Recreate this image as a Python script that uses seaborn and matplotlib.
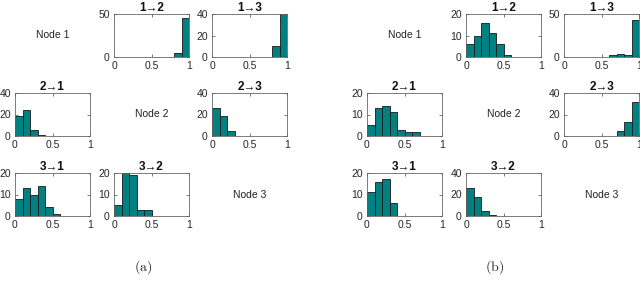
import numpy as np
import matplotlib
matplotlib.use('Agg')
import matplotlib.pyplot as plt
import seaborn as sns

sns.set_theme(style='white')
plt.rcParams['font.family'] = ['Liberation Sans', 'DejaVu Sans']
plt.rcParams['mathtext.fontset'] = 'cm'

# bin edges of every histogram
edges = [0.0, 0.1, 0.2, 0.3, 0.4, 0.5, 0.6, 0.7, 0.8, 0.9, 1.0]

# counts per bin, panel (a)
a_12 = [0, 0, 0, 0, 0, 0, 0, 0, 5, 45]
a_13 = [0, 0, 0, 0, 0, 0, 0, 0, 10, 40]
a_21 = [19, 24, 6, 1, 0, 0, 0, 0, 0, 0]
a_23 = [26, 19, 5, 0, 0, 0, 0, 0, 0, 0]
a_31 = [8, 13, 10, 14, 4, 1, 0, 0, 0, 0]
a_32 = [5, 20, 19, 3, 3, 0, 0, 0, 0, 0]

# counts per bin, panel (b)
b_12 = [6, 10, 16, 11, 6, 1, 0, 0, 0, 0]
b_13 = [0, 0, 0, 0, 0, 0, 2, 3, 2, 43]
b_21 = [5, 13, 14, 11, 3, 2, 2, 0, 0, 0]
b_23 = [0, 0, 0, 0, 0, 0, 0, 5, 13, 32]
b_31 = [11, 16, 17, 6, 0, 0, 0, 0, 0, 0]
b_32 = [26, 18, 5, 1, 0, 0, 0, 0, 0, 0]

# y upper limits
a_ymax = {(1, 2): 50, (1, 3): 40, (2, 1): 40, (2, 3): 40, (3, 1): 20, (3, 2): 20}
b_ymax = {(1, 2): 20, (1, 3): 50, (2, 1): 20, (2, 3): 40, (3, 1): 20, (3, 2): 40}

a_counts = {(1, 2): a_12, (1, 3): a_13, (2, 1): a_21, (2, 3): a_23, (3, 1): a_31, (3, 2): a_32}
b_counts = {(1, 2): b_12, (1, 3): b_13, (2, 1): b_21, (2, 3): b_23, (3, 1): b_31, (3, 2): b_32}

W, H = 640, 293
fig = plt.figure(figsize=(W / 100, H / 100), dpi=100)

col_x = [15, 114, 212]
row_y = [14, 93, 173]
aw, ah = 75, 43
teal = '#008080'
centers = [(edges[k] + edges[k + 1]) / 2 for k in range(len(edges) - 1)]


def ytick_list(ymax):
    if ymax == 50:
        return [0, 50]
    return [0, ymax // 2, ymax]


def draw_group(counts, ymaxes, xoff, label):
    for i in range(3):
        for j in range(3):
            x0 = xoff + col_x[j]
            y0 = row_y[i]
            if i == j:
                fig.text((x0 + aw / 2) / W, 1 - (y0 + ah / 2) / H, 'Node %d' % (i + 1),
                         ha='center', va='center', fontsize=7.5, color='#222222')
                continue
            ax = fig.add_axes([x0 / W, 1 - (y0 + ah) / H, aw / W, ah / H])
            sns.histplot(x=centers, weights=counts[(i + 1, j + 1)], bins=edges, ax=ax,
                         color=teal, edgecolor='#1a1a1a', linewidth=0.6, alpha=1)
            ax.set_xlim(0, 1)
            ax.set_ylim(0, ymaxes[(i + 1, j + 1)])
            ax.set_xticks([0, 0.5, 1])
            ax.set_xticklabels(['0', '0.5', '1'])
            ax.set_yticks(ytick_list(ymaxes[(i + 1, j + 1)]))
            ax.set_ylabel('')
            ax.set_xlabel('')
            ax.tick_params(direction='in', length=2, width=0.5, labelsize=7.5,
                           colors='#444444', labelcolor='#262626', pad=3,
                           top=True, right=True, bottom=True, left=True)
            for s in ax.spines.values():
                s.set_visible(True)
                s.set_color('#666666')
                s.set_linewidth(0.6)
            ax.set_title('%d\u2192%d' % (i + 1, j + 1), fontsize=8.5, fontweight='bold',
                         pad=2, color='#111111')
    fig.text((xoff + 143) / W, 1 - 267 / H, r'$\mathrm{(%s)}$' % label,
             ha='center', va='center', fontsize=10, color='#222222')


draw_group(a_counts, a_ymax, 0, 'a')
draw_group(b_counts, b_ymax, 352, 'b')

fig.savefig('out.png', dpi=100)
